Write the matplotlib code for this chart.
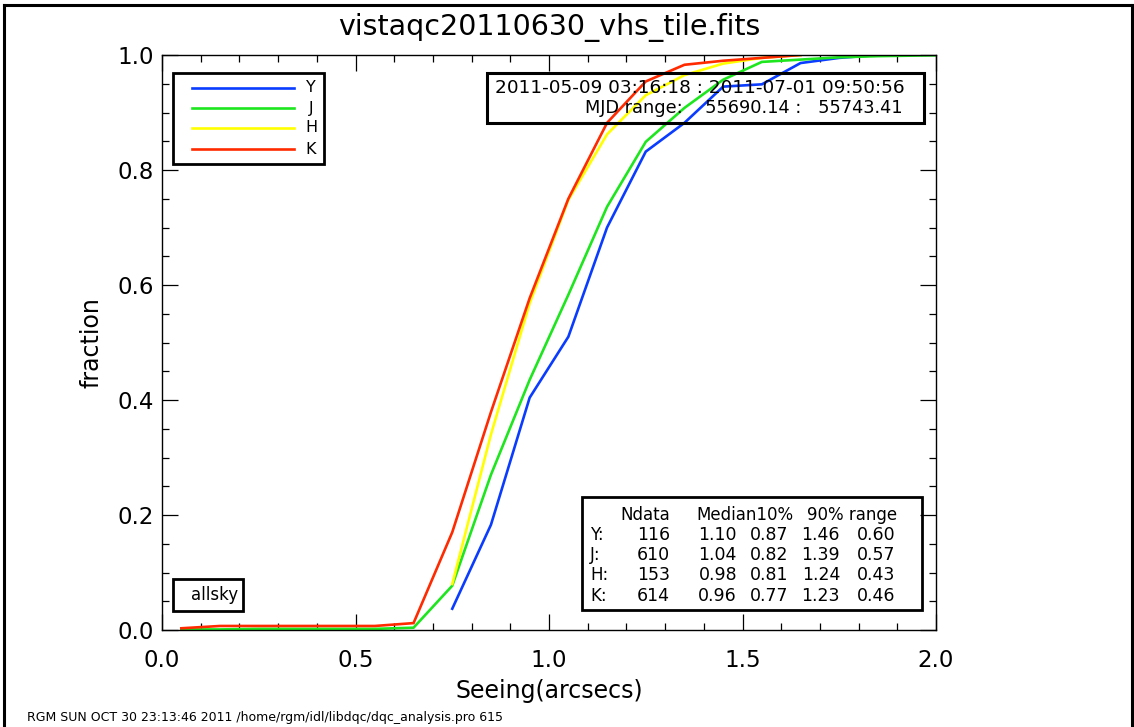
import numpy as np
import matplotlib
matplotlib.use("Agg")
import matplotlib.pyplot as plt
from matplotlib.patches import Rectangle
from matplotlib.lines import Line2D
from matplotlib.ticker import MultipleLocator

nan = np.nan
seeing_bins = [0.05, 0.15, 0.25, 0.35, 0.45, 0.55, 0.65, 0.75, 0.85, 0.95, 1.05,
               1.15, 1.25, 1.35, 1.45, 1.55, 1.65, 1.75, 1.85, 1.95, 2.05]
frac_Y = [nan, nan, nan, nan, nan, nan, nan, 0.037, 0.183, 0.404, 0.51,
          0.70, 0.832, 0.882, 0.945, 0.949, 0.986, 0.995, 1.0, nan, nan]
frac_J = [0.001, 0.001, 0.002, 0.002, 0.002, 0.002, 0.004, 0.077, 0.27, 0.435, 0.583,
          0.736, 0.849, 0.908, 0.957, 0.988, 0.992, 0.996, 0.998, 0.999, 1.0]
frac_H = [nan, nan, nan, nan, nan, nan, nan, 0.08, 0.34, 0.568, 0.748,
          0.862, 0.93, 0.965, 0.985, 0.995, 1.0, nan, nan, nan, nan]
frac_K = [0.003, 0.007, 0.007, 0.007, 0.007, 0.007, 0.012, 0.17, 0.379, 0.577, 0.75,
          0.882, 0.954, 0.983, 0.99, 0.995, 1.0, nan, nan, nan, nan]

bands = ["Y", "J", "H", "K"]
colors = ["#0a3cff", "#1ee61e", "#ffff00", "#ff2a00"]
ndata = ["116", "610", "153", "614"]
median = ["1.10", "1.04", "0.98", "0.96"]
p10 = ["0.87", "0.82", "0.81", "0.77"]
p90 = ["1.46", "1.39", "1.24", "1.23"]
rng = ["0.60", "0.57", "0.43", "0.46"]

title = "vistaqc20110630_vhs_tile.fits"
date_line = "2011-05-09 03:16:18 : 2011-07-01 09:50:56"
mjd_line = "MJD range:    55690.14 :   55743.41"
footer = "RGM SUN OCT 30 23:13:46 2011 /home/rgm/idl/libdqc/dqc_analysis.pro 615"

W, H = 1134, 727
fig = plt.figure(figsize=(W / 100, H / 100), dpi=100)
fig.patch.set_facecolor("white")

def fx(x):
    return x / W

def fy(y):
    return 1 - y / H

ax = fig.add_axes([fx(162), fy(630), fx(936) - fx(162), fy(55) - fy(630)])
series = [frac_Y, frac_J, frac_H, frac_K]
for vals, c in zip(series, colors):
    ax.plot(seeing_bins, vals, color=c, lw=1.9, solid_joinstyle="miter")

ax.set_xlim(0, 2.0)
ax.set_ylim(0, 1.0)
ax.xaxis.set_major_locator(MultipleLocator(0.5))
ax.xaxis.set_minor_locator(MultipleLocator(0.1))
ax.yaxis.set_major_locator(MultipleLocator(0.2))
ax.yaxis.set_minor_locator(MultipleLocator(0.05))
ax.xaxis.set_major_formatter(matplotlib.ticker.FormatStrFormatter("%.1f"))
ax.yaxis.set_major_formatter(matplotlib.ticker.FormatStrFormatter("%.1f"))
ax.tick_params(which="both", direction="in", top=True, right=True, width=0.9,
               labelsize=16.5, colors="black")
ax.tick_params(which="major", length=11.5, pad=14)
ax.tick_params(which="minor", length=5)
ax.tick_params(axis="y", which="major", pad=6)
for s in ax.spines.values():
    s.set_linewidth(1.0)
ax.set_xlabel("Seeing(arcsecs)", fontsize=17, labelpad=5)
ax.set_ylabel("fraction", fontsize=17, labelpad=10)

fig.text(fx(549), fy(28), title, ha="center", va="center", fontsize=20.5)

def box(x0, y0, x1, y1, lw=2.0):
    fig.add_artist(Rectangle((fx(x0), fy(y1)), fx(x1) - fx(x0), fy(y0) - fy(y1),
                             transform=fig.transFigure, fill=False,
                             edgecolor="black", lw=lw, zorder=5))

# legend box
box(173, 73, 324, 164)
leg_y = [88, 108, 128, 149]
for b, c, yy in zip(bands, colors, leg_y):
    fig.add_artist(Line2D([fx(192), fx(294)], [fy(yy), fy(yy)], color=c, lw=1.9,
                          transform=fig.transFigure))
    fig.text(fx(311), fy(yy), b, ha="center", va="center", fontsize=11.5)

# date box
box(487, 73, 924, 123, lw=2.2)
fig.text(fx(905), fy(88), date_line, ha="right", va="center", fontsize=13.3)
fig.text(fx(903), fy(108), mjd_line, ha="right", va="center", fontsize=12.8)

# stats box
box(582, 497, 922, 610)
fig.text(fx(670), fy(515), "Ndata", ha="right", va="center", fontsize=12)
fig.text(fx(793), fy(515), "Median10%", ha="right", va="center", fontsize=12)
fig.text(fx(897), fy(515), "90% range", ha="right", va="center", fontsize=12)
row_y = [535, 555, 575, 596]
for b, nd, md, a, bb, r, yy in zip(bands, ndata, median, p10, p90, rng, row_y):
    fig.text(fx(590), fy(yy), b + ":", ha="left", va="center", fontsize=12)
    fig.text(fx(670), fy(yy), nd, ha="right", va="center", fontsize=12.5)
    fig.text(fx(737), fy(yy), md, ha="right", va="center", fontsize=12.5)
    fig.text(fx(788), fy(yy), a, ha="right", va="center", fontsize=12.5)
    fig.text(fx(840), fy(yy), bb, ha="right", va="center", fontsize=12.5)
    fig.text(fx(895), fy(yy), r, ha="right", va="center", fontsize=12.5)

# allsky box
box(173, 579, 243, 611)
fig.text(fx(215), fy(595), "allsky", ha="center", va="center", fontsize=12)

fig.text(fx(27), fy(717), footer, ha="left", va="center", fontsize=9)

# outer frame
for xs, ys in [([4, 4], [5, 727]), ([4, 1132], [5, 5]), ([1132, 1132], [5, 727])]:
    fig.add_artist(Line2D([fx(v) for v in xs], [fy(v) for v in ys], color="black",
                          lw=2.2, transform=fig.transFigure))

fig.savefig("out.png", dpi=100, facecolor="white")
